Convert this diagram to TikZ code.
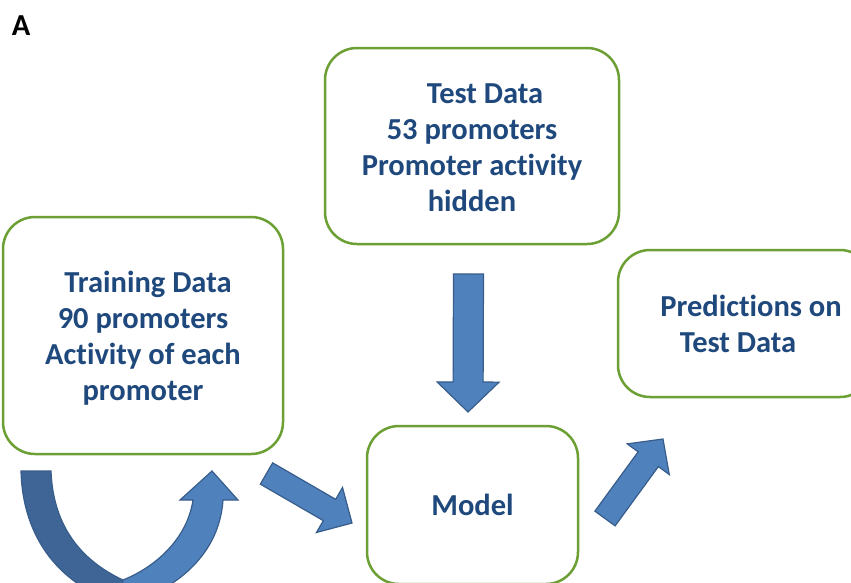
\documentclass[tikz,border=0pt]{standalone}
\usepackage{fontspec}
\setmainfont{Carlito}[Ligatures=NoCommon]
\usetikzlibrary{calc}

\definecolor{boxgreen}{RGB}{108,160,52}
\definecolor{textblue}{RGB}{31,73,125}
\definecolor{arrowblue}{RGB}{79,129,189}
\definecolor{arrowdark}{RGB}{63,101,151}
\definecolor{arrowedge}{RGB}{56,93,138}

% straight block arrow: tail, tip, half shaft width, half head width, head length
\newcommand\blockarrowpath[5]{%
  ($(#1)!#3!90:(#2)$) --
  ($(#2)!#5!(#1)!#3!-90:(#1)$) --
  ($(#2)!#5!(#1)!#4!-90:(#1)$) --
  (#2) --
  ($(#2)!#5!(#1)!#4!90:(#1)$) --
  ($(#2)!#5!(#1)!#3!90:(#1)$) --
  ($(#1)!#3!-90:(#2)$) -- cycle}

\tikzset{
  stage/.style={draw=boxgreen, line width=2.5pt, rounded corners=32pt,
    fill=white, align=center, inner sep=0pt, text=textblue,
    font=\fontsize{30.5}{36}\selectfont\bfseries},
  blockarrow/.style={fill=arrowblue, draw=arrowedge, line width=1.2pt,
    line join=miter},
  backband/.style={fill=arrowdark, draw=arrowedge, line width=1.2pt},
  panel/.style={font=\fontsize{30.5}{36}\selectfont\bfseries, text=black}
}

\begin{document}
\begin{tikzpicture}[x=1pt, y=-1pt]
  \fill[white] (0,0) rectangle (851,582);
  \useasboundingbox (0,0) rectangle (851,582);

  \node[panel] (label) at (21,26) {A};

  % process stages
  \node[stage, minimum width=280pt, minimum height=237pt] (train) at (143,335.5)
    {\rule{0pt}{27pt}\hspace*{10pt}Training Data\\90 promoters\\Activity of each\\promoter};
  \node[stage, minimum width=294pt, minimum height=196pt] (test) at (472,146)
    {\rule{0pt}{23.5pt}\hspace*{26pt}Test Data\\53 promoters\\Promoter activity\\hidden};
  \node[stage, minimum width=254pt, minimum height=147pt] (pred) at (745,323.5)
    {\hspace*{12pt}Predictions on\\Test Data\hspace*{14pt}};
  \node[stage, minimum width=211pt, minimum height=158pt] (model) at (472.5,505)
    {Model};

  % arrow end points
  \coordinate (testout)  at (468.5,274);
  \coordinate (modelin)  at (468,412);
  \coordinate (trainout) at (266.5,473.5);
  \coordinate (modelin2) at (352,523);
  \coordinate (modelout) at (605,518.5);
  \coordinate (predin)   at (663,439);

  \draw[blockarrow] \blockarrowpath{testout}{modelin}{15pt}{31pt}{30pt};
  \draw[blockarrow] \blockarrowpath{trainout}{modelin2}{12.3pt}{26pt}{26pt};
  \draw[blockarrow] \blockarrowpath{modelout}{predin}{12.5pt}{26pt}{25pt};

  % U-turn arrow under the training stage
  \draw[backband] (51,471) .. controls (53,525) and (80,560) .. (123,580)
    -- (125,605) .. controls (68,590) and (23,546) .. (21,471) -- cycle;
  \draw[blockarrow] (123,580) .. controls (160,565) and (188,535) .. (193,500)
    -- (180,500) -- (212,471) -- (238,500) -- (223,500)
    .. controls (220,545) and (190,580) .. (140,600) -- (120,600) -- cycle;
\end{tikzpicture}
\end{document}
